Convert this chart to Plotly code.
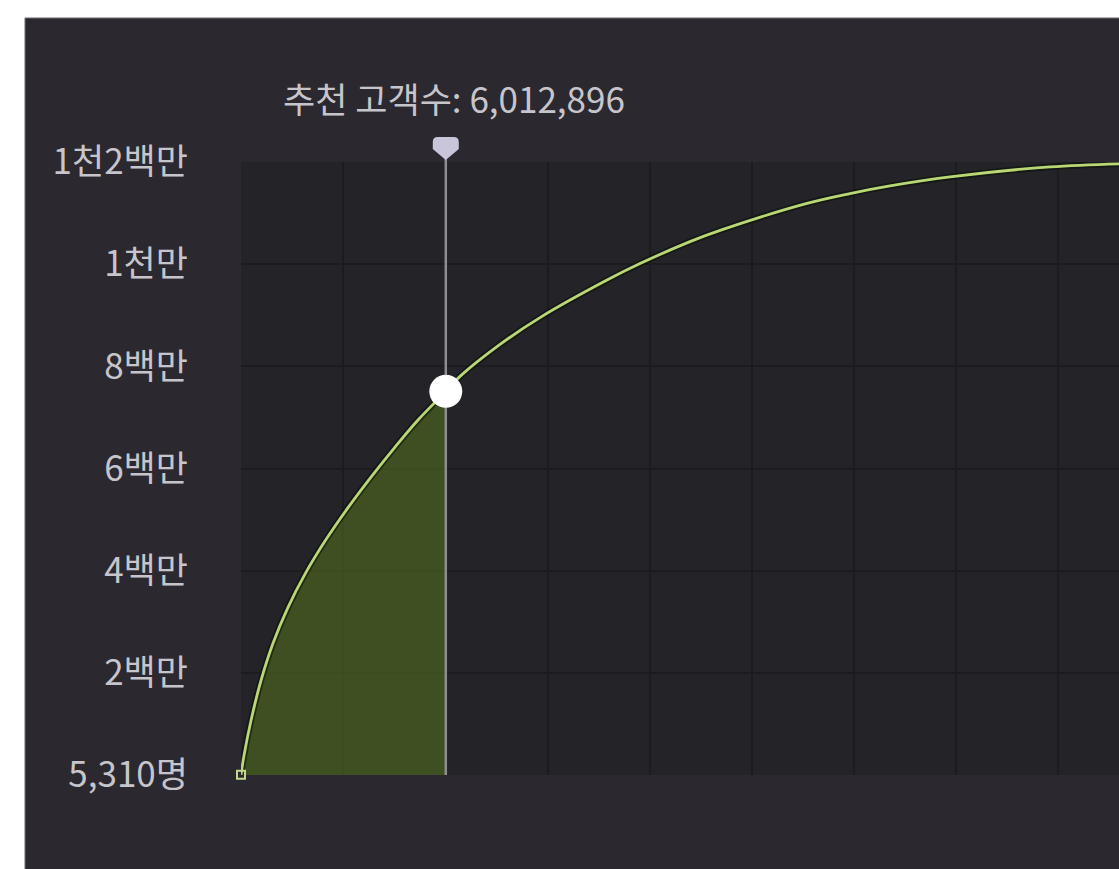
import plotly.graph_objects as go

# ---- data ----
customers = [0, 88000, 294000, 587000, 940000, 1380000, 1879000, 2466000, 3142000,
             3817000, 4522000, 5197000, 6012896, 6430000, 7605000, 8779000, 10747000,
             11716000, 13184000, 14153000, 16619000, 17882000, 19056000, 20818000,
             23754000, 25780000]
reach = [5310, 382000, 1067000, 1850000, 2578000, 3283000, 3933000, 4579000, 5233000,
         5832000, 6419000, 6949000, 7510000, 7803000, 8429000, 8954000, 9688000,
         10011000, 10442000, 10681000, 11190000, 11383000, 11532000, 11708000,
         11904000, 11965000]
recommended = 6012896
recommended_reach = 7510000
y_tickvals = [5310, 2000000, 4000000, 6000000, 8000000, 10000000, 12000000]
y_ticktext = ["5,310명", "2백만", "4백만", "6백만", "8백만", "1천만", "1천2백만"]
label_prefix = "추천 고객수: "

# ---- layout geometry ----
W, H = 1119, 869
L, R, T, B = 241, 0, 162, 94
PW, PH = W - L - R, H - T - B
X_RANGE = [0, 25780000]
Y_RANGE = [0, 12000000]

def px_x(p):
    return (p - L) / PW

def px_y(p):
    return (H - B - p) / PH

FONT = "Noto Sans CJK KR, Noto Sans, sans-serif"
LINE = "#bad775"
TEXT = "#c6c5cb"

fill_x = [x for x in customers if x <= recommended]
fill_y = [y for x, y in zip(customers, reach) if x <= recommended]

fig = go.Figure()

# filled area up to the recommended point
fig.add_trace(go.Scatter(
    x=fill_x, y=fill_y, mode="lines", fill="tozeroy",
    fillcolor="rgba(80,110,30,0.6)",
    line=dict(width=0, color="rgba(0,0,0,0)", shape="spline", smoothing=1.0),
    hoverinfo="skip", showlegend=False))

# vertical selection line (inside the plot)
fig.add_trace(go.Scatter(
    x=[recommended, recommended], y=[Y_RANGE[0], Y_RANGE[1]], mode="lines",
    line=dict(color="#8e8d94", width=2.5),
    hoverinfo="skip", showlegend=False))

# curve shadow
fig.add_trace(go.Scatter(
    x=customers, y=reach, mode="lines",
    line=dict(color="rgba(10,14,6,0.55)", width=6.5, shape="spline", smoothing=1.0),
    hoverinfo="skip", showlegend=False))

# curve
fig.add_trace(go.Scatter(
    x=customers, y=reach, mode="lines",
    line=dict(color=LINE, width=2.8, shape="spline", smoothing=1.0),
    showlegend=False))

# start marker
fig.add_trace(go.Scatter(
    x=[customers[0]], y=[reach[0]], mode="markers",
    marker=dict(symbol="square-open", size=8, color="#c4d98c", line=dict(width=2)),
    cliponaxis=False, showlegend=False))

# selected point
fig.add_trace(go.Scatter(
    x=[recommended], y=[recommended_reach], mode="markers",
    marker=dict(symbol="circle", size=33, color="#ffffff", line=dict(width=0)),
    cliponaxis=False, showlegend=False))

fig.add_annotation(
    x=recommended, xref="x", y=px_y(97), yref="paper", xshift=8,
    text=f"{label_prefix}{recommended:,}", showarrow=False,
    xanchor="center", yanchor="middle",
    font=dict(family=FONT, size=35, color=TEXT))

shapes = [
    # white outer margins
    dict(type="rect", xref="paper", yref="paper", x0=px_x(0), x1=1.0,
         y0=px_y(18), y1=px_y(0), fillcolor="#ffffff", line=dict(width=0), layer="below"),
    dict(type="rect", xref="paper", yref="paper", x0=px_x(0), x1=px_x(25),
         y0=px_y(H), y1=px_y(0), fillcolor="#ffffff", line=dict(width=0), layer="below"),
    dict(type="line", xref="paper", yref="paper", x0=px_x(25), x1=1.0,
         y0=px_y(18), y1=px_y(18), line=dict(color="#6b696f", width=1), layer="below"),
    dict(type="line", xref="paper", yref="paper", x0=px_x(25), x1=px_x(25),
         y0=px_y(H), y1=px_y(18), line=dict(color="#6b696f", width=1), layer="below"),
    # selection line segment in the top margin, up to the pin
    dict(type="line", xref="x", yref="paper", x0=recommended, x1=recommended,
         y0=1.0, y1=px_y(150), line=dict(color="#8e8d94", width=2.5), layer="below"),
    # pin at the top of the selection line
    dict(type="path", xref="x", yref="paper", xsizemode="pixel", ysizemode="pixel",
         xanchor=recommended, yanchor=px_y(148),
         path="M -13 6 Q -13 11 -8 11 L 8 11 Q 13 11 13 6 L 13 -1 L 0 -12 L -13 -1 Z",
         fillcolor="#c9c6dc", line=dict(width=0), layer="above"),
]

fig.update_layout(
    width=W, height=H, autosize=False,
    margin=dict(l=L, r=R, t=T, b=B, pad=0),
    paper_bgcolor="#2c282f", plot_bgcolor="#242428",
    font=dict(family=FONT, color=TEXT),
    shapes=shapes, hovermode=False,
    xaxis=dict(range=X_RANGE, dtick=3000000, tick0=0, showticklabels=False,
               showgrid=True, gridcolor="#1c1c20", gridwidth=1.5,
               zeroline=False, showline=False, fixedrange=True),
    yaxis=dict(range=Y_RANGE, tickvals=y_tickvals, ticktext=y_ticktext,
               showgrid=True, gridcolor="#1c1c20", gridwidth=1.5,
               zeroline=False, showline=False, ticks="",
               ticklabelstandoff=52, fixedrange=True,
               tickfont=dict(family=FONT, size=35, color=TEXT)),
)

fig.write_html(
    "out.html",
    config={"displayModeBar": False},
    post_script="document.body.style.margin='0';document.body.style.overflow='hidden';",
)
